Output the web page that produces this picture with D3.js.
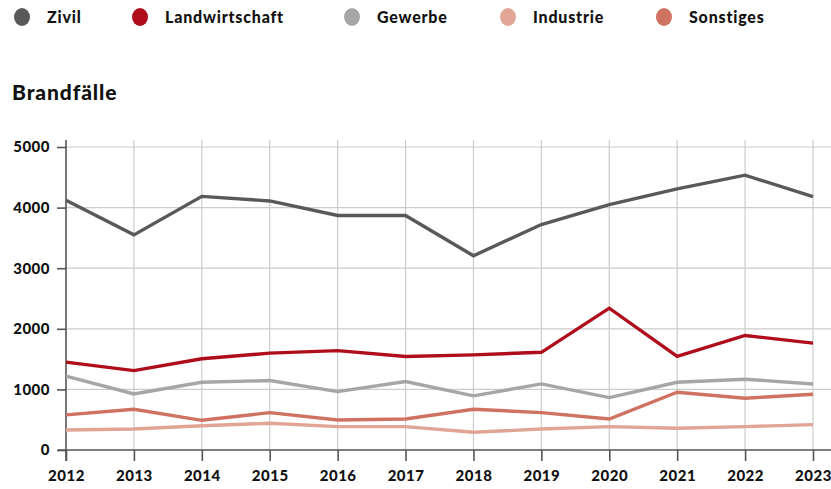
<!DOCTYPE html>
<html>
<head>
<meta charset="utf-8">
<script src="https://cdn.jsdelivr.net/npm/d3@7"></script>
<style>
  body { margin: 0; background: #fff; }
  svg { display: block; font-family: "Lato", "DejaVu Sans", sans-serif; }
</style>
</head>
<body>
<script>
// data
const years = [2012, 2013, 2014, 2015, 2016, 2017, 2018, 2019, 2020, 2021, 2022, 2023];
const zivil = [4120, 3550, 4185, 4110, 3870, 3870, 3205, 3720, 4050, 4310, 4535, 4180];
const landwirtschaft = [1450, 1310, 1505, 1598, 1640, 1543, 1570, 1612, 2340, 1543, 1890, 1763];
const gewerbe = [1220, 925, 1118, 1146, 964, 1129, 893, 1090, 865, 1118, 1168, 1090];
const industrie = [331, 347, 400, 441, 386, 386, 292, 347, 386, 358, 386, 419];
const sonstiges = [579, 672, 490, 617, 496, 512, 672, 617, 512, 953, 854, 920];
const seriesNames = ["Zivil", "Landwirtschaft", "Gewerbe", "Industrie", "Sonstiges"];
const seriesColors = ["#595959", "#b00d1c", "#a6a6a6", "#e0a595", "#cf7262"];
const yTicks = [0, 1000, 2000, 3000, 4000, 5000];

const series = [zivil, landwirtschaft, gewerbe, industrie, sonstiges].map((vals, i) => ({
    name: seriesNames[i],
    color: seriesColors[i],
    values: vals.map((v, j) => ({ year: years[j], value: v }))
}));

const width = 831, height = 489;
const margin = { top: 147, right: 18, bottom: 39, left: 66 };

const svg = d3.select("body").append("svg")
    .attr("width", width)
    .attr("height", height);

// Legend
const legendX = [22, 140, 352, 508, 664];
const legend = svg.append("g").attr("class", "legend");
const entries = legend.selectAll(".legend-entry")
    .data(series)
    .enter().append("g")
    .attr("class", "legend-entry")
    .attr("transform", (d, i) => `translate(${legendX[i]}, 17)`);

entries.append("ellipse")
    .attr("rx", 8)
    .attr("ry", 9)
    .attr("fill", d => d.color);

entries.append("text")
    .attr("x", 25)
    .attr("y", 6)
    .attr("font-size", 16)
    .attr("font-weight", 900)
    .attr("letter-spacing", 0.8)
    .attr("fill", "#111")
    .text(d => d.name);

// Title
svg.append("text")
    .attr("x", 12)
    .attr("y", 100)
    .attr("font-size", 21)
    .attr("font-weight", 900)
    .attr("letter-spacing", 0.9)
    .attr("fill", "#111")
    .text("Brandfälle");

// Scales
const xScale = d3.scaleLinear()
    .domain([2012, 2023])
    .range([margin.left, width - margin.right]);
const yScale = d3.scaleLinear()
    .domain([0, 5000])
    .range([height - margin.bottom, margin.top]);

const y0 = yScale(0);
const gridTop = 140;

// Gridlines
svg.append("g").selectAll("line.hgrid")
    .data(yTicks.slice(1))
    .enter().append("line")
    .attr("class", "hgrid")
    .attr("x1", margin.left).attr("x2", width)
    .attr("y1", d => yScale(d)).attr("y2", d => yScale(d))
    .attr("stroke", "#cccccc").attr("stroke-width", 1.2);

svg.append("g").selectAll("line.vgrid")
    .data(years.slice(1))
    .enter().append("line")
    .attr("class", "vgrid")
    .attr("x1", d => xScale(d)).attr("x2", d => xScale(d))
    .attr("y1", gridTop).attr("y2", y0)
    .attr("stroke", "#cccccc").attr("stroke-width", 1.2);

// Axes
const xAxis = svg.append("g")
    .attr("transform", `translate(0, ${y0})`)
    .call(d3.axisBottom(xScale).tickValues(years).tickFormat(d3.format("d")).tickSize(11).tickPadding(9));
xAxis.select(".domain").remove();
xAxis.append("line")
    .attr("x1", margin.left - 8).attr("x2", width)
    .attr("stroke", "#555").attr("stroke-width", 1.6);

const yAxis = svg.append("g")
    .attr("transform", `translate(${margin.left}, 0)`)
    .call(d3.axisLeft(yScale).tickValues(yTicks).tickFormat(d3.format("d")).tickSize(9).tickPadding(7));
yAxis.select(".domain").remove();
yAxis.append("line")
    .attr("y1", gridTop).attr("y2", y0 + 11)
    .attr("stroke", "#555").attr("stroke-width", 1.6);

svg.selectAll(".tick line").attr("stroke", "#555").attr("stroke-width", 1.6);
svg.selectAll(".tick text")
    .attr("font-family", "Lato, 'DejaVu Sans', sans-serif")
    .attr("font-size", 15)
    .attr("font-weight", 900)
    .attr("letter-spacing", 0.5)
    .attr("fill", "#111");

// Lines
const line = d3.line()
    .x(d => xScale(d.year))
    .y(d => yScale(d.value));

svg.append("g").selectAll("path.series")
    .data(series.slice().reverse())
    .enter().append("path")
    .attr("class", "series")
    .attr("d", d => line(d.values))
    .attr("fill", "none")
    .attr("stroke", d => d.color)
    .attr("stroke-width", 3.4)
    .attr("stroke-linejoin", "miter");
</script>
</body>
</html>
